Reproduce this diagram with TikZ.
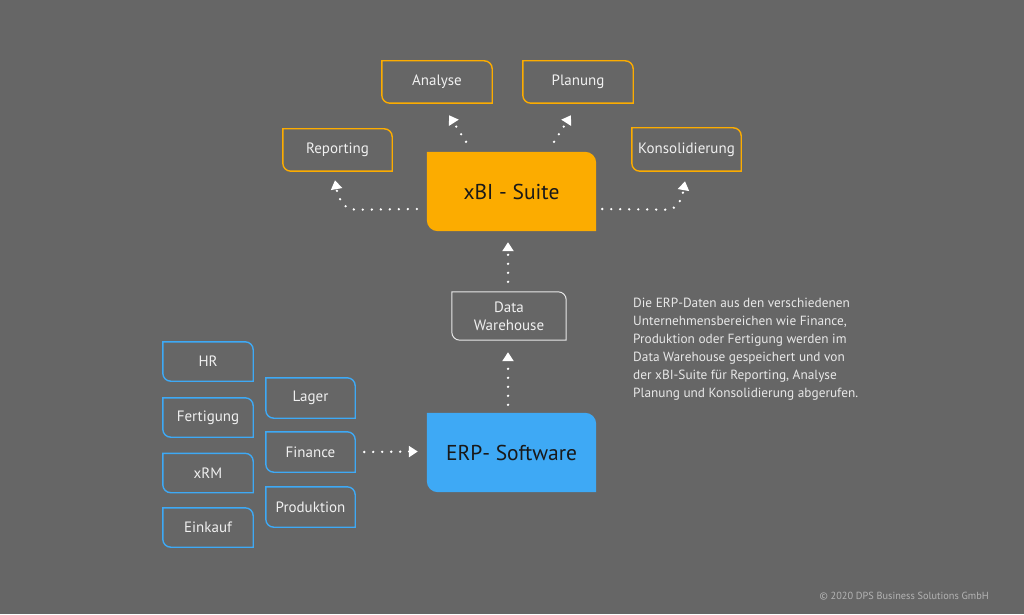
\documentclass[tikz,border=0pt]{standalone}
\usepackage{fontspec}
\setmainfont{PT Sans}
\usetikzlibrary{arrows.meta,calc}
\definecolor{bgc}{HTML}{666666}
\definecolor{xorange}{HTML}{FCAC00}
\definecolor{xblue}{HTML}{3EA9F5}
\definecolor{lblc}{HTML}{F0F0F0}
\definecolor{parc}{HTML}{E8E8E8}
\definecolor{copyc}{HTML}{B4B4B4}
\pgfdeclarelayer{back}
\pgfdeclarelayer{shapes}
\pgfsetlayers{back,shapes,main}
\begin{document}
\begin{tikzpicture}[x=1pt,y=1pt,
  lbl/.style={inner sep=0pt, text=lblc, font=\fontsize{15}{17}\selectfont, align=center},
  big/.style={inner sep=0pt, text=black!90, font=\fontsize{21.5}{24}\selectfont, minimum width=169pt, minimum height=79pt},
  dotarrow/.style={draw=white, line width=2.6pt, line cap=round, dash pattern=on 0pt off 9pt, -{Triangle[width=11pt,length=9pt]}}
]
\useasboundingbox (0,0) rectangle (1024,614);
\begin{pgfonlayer}{back}
\fill[bgc] (0,0) rectangle (1024,614);
\end{pgfonlayer}

% top boxes
\node[lbl, minimum width=110pt, minimum height=42pt] (analyse) at (437,532) {Analyse};
\node[lbl, minimum width=110pt, minimum height=42pt] (planung) at (578,532) {Planung};
\node[lbl, minimum width=109pt, minimum height=42pt] (reporting) at (337.5,464) {Reporting};
\node[lbl, minimum width=109pt, minimum height=43pt] (konsol) at (686.5,464.5) {Konsolidierung};
\node[big] (xbi) at (511.5,422.5) {xBI - Suite};
\node[lbl, minimum width=114pt, minimum height=48pt, font=\fontsize{15}{18}\selectfont] (dw) at (509,298) {Data\\Warehouse};
\node[big] (erp) at (511.5,161.5) {ERP- Software};

% ERP modules
\node[lbl, minimum width=90pt, minimum height=39pt] (hr) at (208,252.5) {HR};
\node[lbl, minimum width=90pt, minimum height=39pt] (fertigung) at (208,196.5) {Fertigung};
\node[lbl, minimum width=90pt, minimum height=39pt] (xrm) at (208,141) {xRM};
\node[lbl, minimum width=90pt, minimum height=39pt] (einkauf) at (208,86.5) {Einkauf};
\node[lbl, minimum width=89pt, minimum height=40pt] (lager) at (310.5,216) {Lager};
\node[lbl, minimum width=89pt, minimum height=40pt] (finance) at (310.5,162) {Finance};
\node[lbl, minimum width=89pt, minimum height=40pt] (produktion) at (310.5,107) {Produktion};

\begin{pgfonlayer}{shapes}
\foreach \n/\c in {analyse/xorange, planung/xorange, reporting/xorange, konsol/xorange,
  hr/xblue, fertigung/xblue, xrm/xblue, einkauf/xblue, lager/xblue, finance/xblue, produktion/xblue}
  \draw[\c, line width=1.4pt] (\n.north west) -- ([xshift=-8pt]\n.north east)
    arc[start angle=90,end angle=0,radius=8pt] -- (\n.south east)
    -- ([xshift=8pt]\n.south west) arc[start angle=270,end angle=180,radius=8pt] -- cycle;
\draw[white!85!bgc, line width=1pt] (dw.north west) -- ([xshift=-8pt]dw.north east)
    arc[start angle=90,end angle=0,radius=8pt] -- (dw.south east)
    -- ([xshift=8pt]dw.south west) arc[start angle=270,end angle=180,radius=8pt] -- cycle;
\foreach \n/\c in {xbi/xorange, erp/xblue}
  \fill[\c] (\n.north west) -- ([xshift=-11pt]\n.north east)
    arc[start angle=90,end angle=0,radius=11pt] -- (\n.south east)
    -- ([xshift=11pt]\n.south west) arc[start angle=270,end angle=180,radius=11pt] -- cycle;
\end{pgfonlayer}

% connectors
\draw[dotarrow] ([xshift=9pt]finance.east) -- ([xshift=-9pt,yshift=0.5pt]erp.west |- finance.east);
\draw[dotarrow] ([xshift=-1pt,yshift=8pt]erp.north -| dw.south) -- ([xshift=-1pt,yshift=-12pt]dw.south);
\draw[dotarrow] ([xshift=-1pt,yshift=10pt]dw.north) -- ([xshift=-3.5pt,yshift=-11pt]xbi.south);
\draw[dotarrow] ($(xbi.north)+(-45.5,10)$) -- ($(analyse.south)+(12,-12)$);
\draw[dotarrow] ($(xbi.north)+(42.5,10)$) -- ($(planung.south)+(-7,-12)$);
\draw[dotarrow] ($(xbi.west)+(-10,-17.5)$) -- ($(reporting.south)+(18,-38.5)$)
   to[out=180,in=-80] ($(reporting.south)+(-2.5,-9)$);
\draw[dotarrow] ($(xbi.east)+(6,-17.5)$) -- ($(konsol.south)+(-20,-38.5)$)
   to[out=0,in=-100] ($(konsol.south)+(-1.5,-10)$);

% description
\node[anchor=north west, inner sep=0pt, align=left, text=parc,
  font=\fontsize{13.3}{18}\selectfont] (desc) at (633,316) {Die ERP-Daten aus den verschiedenen\\Unternehmensbereichen wie Finance,\\Produktion oder Fertigung werden im\\Data Warehouse gespeichert und von\\der xBI-Suite für Reporting, Analyse\\Planung und Konsolidierung abgerufen.};

\node[anchor=east, inner sep=0pt, text=copyc, font=\fontsize{10.3}{12}\selectfont] (copy) at (989,18) {© 2020 DPS Business Solutions GmbH};
\end{tikzpicture}
\end{document}
